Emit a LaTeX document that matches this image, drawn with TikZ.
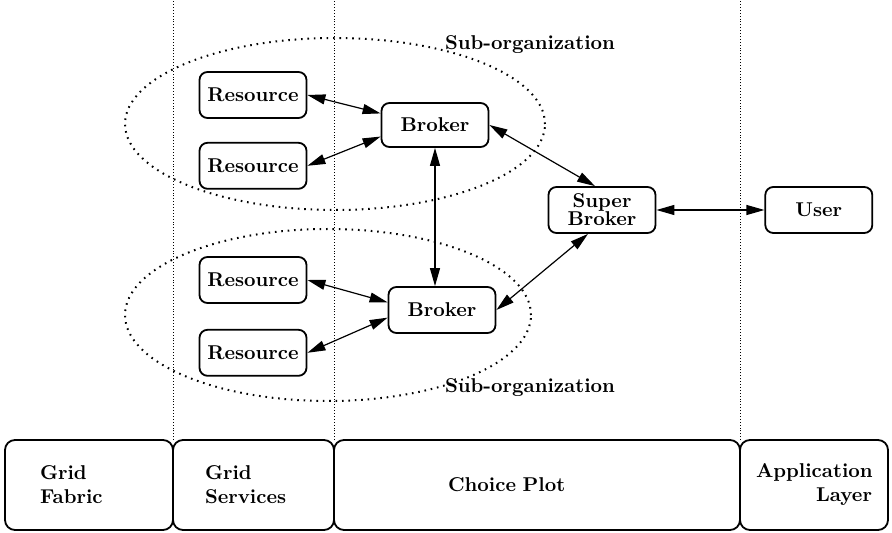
\documentclass[tikz,border=0pt]{standalone}
\usetikzlibrary{arrows.meta,positioning}

\begin{document}
\begin{tikzpicture}[
  x=0.5pt,y=-0.5pt,
  node distance=11.5pt and 10pt,
  box/.style={draw,line width=0.9pt,rounded corners=4pt,minimum width=53.5pt,minimum height=23pt,inner sep=2pt,font=\bfseries,align=center},
  layer/.style={draw,line width=0.9pt,rounded corners=5pt,outer sep=0pt,minimum height=45pt,font=\bfseries},
  lbl/.style={font=\bfseries,inner sep=0pt},
  arr/.style={{Triangle[length=9pt,width=5pt]}-{Triangle[length=9pt,width=5pt]},line width=0.6pt},
  org/.style={line width=1pt,dash pattern=on 0.8pt off 2.4pt},
  sep/.style={line width=0.45pt,densely dotted}]
  \useasboundingbox (0,0) rectangle (892,533);
  % layers along the bottom
  \node[layer,anchor=north west,inner xsep=17.5pt,text width=49pt,align=left] (fab) at (5,440) {Grid\\Fabric};
  \node[layer,right=0pt of fab,inner xsep=16pt,text width=48.5pt,align=left] (svc) {Grid\\Services};
  \node[layer,right=0pt of svc,inner xsep=57pt,text width=89pt,align=left] (cho) {Choice Plot};
  \node[layer,right=0pt of cho,inner xsep=8pt,text width=58pt,align=right] (app) {Application\\Layer};
  \draw[sep] (fab.north east) -- ++(0,-440);
  \draw[sep] (svc.north east) -- ++(0,-440);
  \draw[sep] (cho.north east) -- ++(0,-440);
  % sub-organizations
  \draw[org] (335,124) ellipse [x radius=105pt,y radius=43pt];
  \draw[org] (328,315) ellipse [x radius=101.5pt,y radius=43pt];
  \node[lbl] (sub1) at (530,45) {Sub-organization};
  \node[lbl] (sub2) at (530,388) {Sub-organization};
  \node[box] (res1) at (253,95) {Resource};
  \node[box,below=of res1] (res2) {Resource};
  \node[box] (res3) at (253,280) {Resource};
  \node[box,below=12.5pt of res3] (res4) {Resource};
  \node[box,minimum height=22pt] (brk1) at (435,125) {Broker};
  \node[box] (brk2) at (442,310) {Broker};
  \node[box] (sup) at (602,210) {Super\\[-3pt]Broker};
  \node[box,right=54pt of sup] (user) {User};
  \draw[arr] (res1.east) -- (brk1.168);
  \draw[arr] (res2.east) -- (brk1.192);
  \draw[arr] (res3.east) -- (brk2.172);
  \draw[arr] (res4.east) -- (brk2.188);
  \draw[arr] (brk1.south) -- (brk1.south |- brk2.north);
  \draw[arr] (brk1.east) -- ([xshift=-3.5pt]sup.north);
  \draw[arr] (brk2.east) -- ([xshift=-7pt]sup.south);
  \draw[arr] (sup) -- (user);
\end{tikzpicture}
\end{document}
